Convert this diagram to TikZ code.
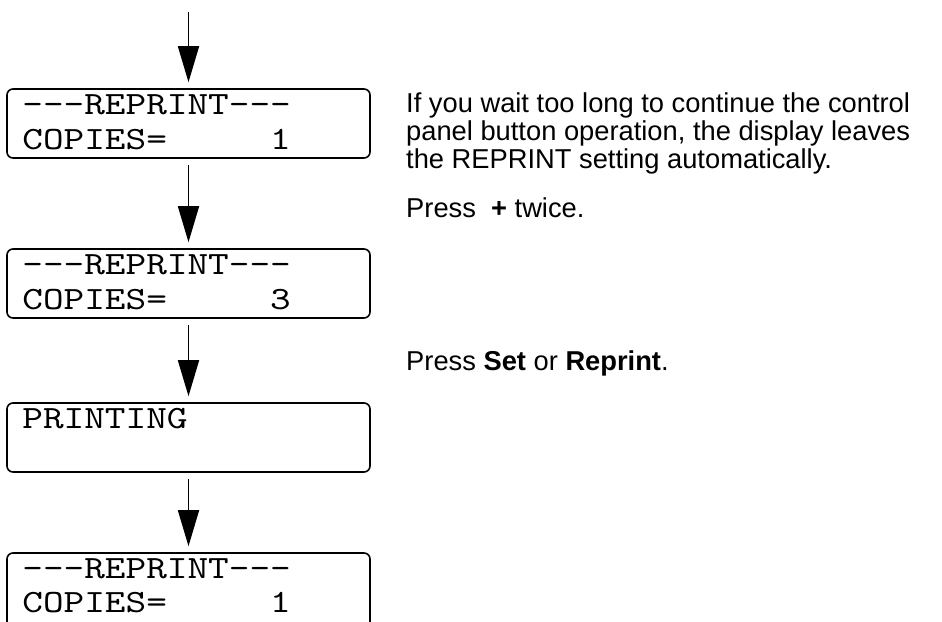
\documentclass[tikz,border=0pt]{standalone}
\usepackage{fontspec}
\setmainfont{Liberation Sans}
\newfontfamily\lcdfont{lmmono10-regular.otf}[FakeStretch=1.21]
\usetikzlibrary{arrows.meta}
\definecolor{inkBlack}{HTML}{000000}
\newcommand\lcddash{\hbox{-}}
\newcommand\lcdbar{\lcddash\lcddash\lcddash}
\tikzset{
  panel/.style={draw=inkBlack, line width=1.6pt, rounded corners=6pt, minimum width=363pt, minimum height=69pt, inner sep=0pt},
  lcd/.style={anchor=base west, inner sep=0pt, font=\fontsize{32.5}{35}\lcdfont},
  flow/.style={-{Triangle[length=36pt,width=21pt]}, line width=1.8pt, inkBlack, shorten <=6pt, shorten >=6pt},
  note/.style={anchor=base west, inner sep=0pt, font=\fontsize{27.3}{28}\selectfont},
}

\begin{document}
\begin{tikzpicture}[x=1pt, y=-1pt]
  \useasboundingbox (0,0) rectangle (942,621);
  \clip (0,0) rectangle (942,621);
  % display panels
  \node[panel] (d1) at (188.5,123.5) {};
  \node[panel] (d2) at (188.5,283.5) {};
  \node[panel] (d3) at (188.5,437.5) {};
  \node[panel, minimum height=84pt] (d4) at (188.5,595) {};
  \node[lcd] (d1a) at ([xshift=16pt, yshift=-26pt]d1.north west) {\lcdbar REPRINT\lcdbar};
  \node[lcd] (d1b) at ([xshift=16pt, yshift=-61pt]d1.north west) {COPIES=\hphantom{00000}1};
  \node[lcd] (d2a) at ([xshift=16pt, yshift=-26pt]d2.north west) {\lcdbar REPRINT\lcdbar};
  \node[lcd] (d2b) at ([xshift=16pt, yshift=-61pt]d2.north west) {COPIES=\hphantom{00000}3};
  \node[lcd] (d3a) at ([xshift=16pt, yshift=-26pt]d3.north west) {PRINTING};
  \node[lcd] (d4a) at ([xshift=16pt, yshift=-26pt]d4.north west) {\lcdbar REPRINT\lcdbar};
  \node[lcd] (d4b) at ([xshift=16pt, yshift=-60pt]d4.north west) {COPIES=\hphantom{00000}1};
  % flow arrows
  \coordinate (in0) at (188.5,12);
  \draw[flow, shorten <=0pt] (in0) -- (d1.north);
  \draw[flow] (d1.south) -- (d2.north);
  \draw[flow] (d2.south) -- (d3.north);
  \draw[flow] (d3.south) -- (d4.north);
  % notes on the right
  \node[note] (wait1) at (406,112) {If you wait too long to continue the control};
  \node[note] (wait2) at (406,140) {panel button operation, the display leaves};
  \node[note] (wait3) at (406,168) {the REPRINT setting automatically.};
  \node[note] (plus) at (406,217) {Press\ \ \textbf{+} twice.};
  \node[note] (set) at (406,370) {Press \textbf{Set} or \textbf{Reprint}.};
\end{tikzpicture}
\end{document}
